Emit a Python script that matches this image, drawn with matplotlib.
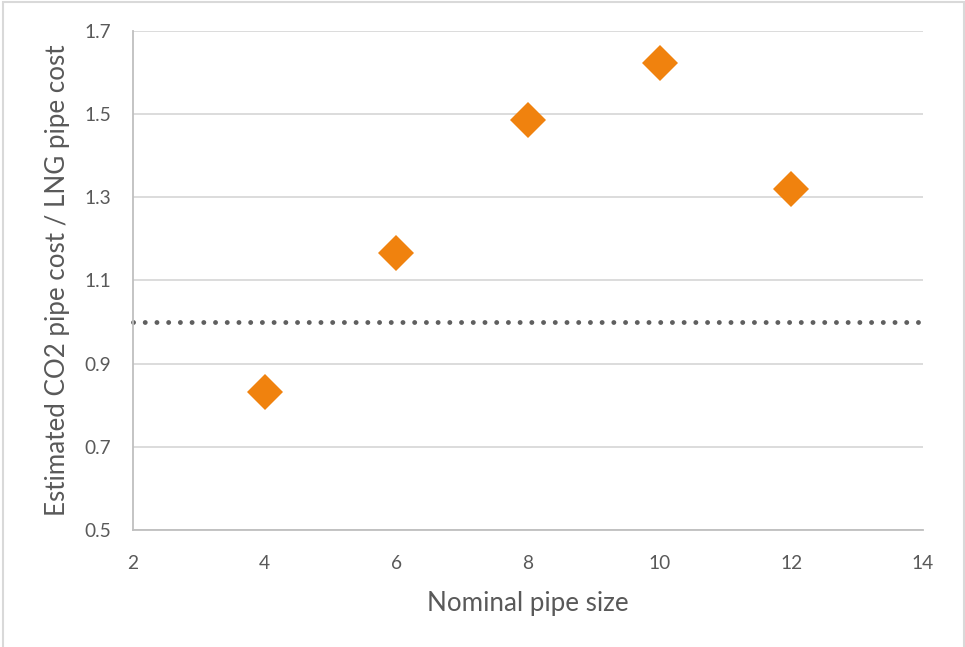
import matplotlib
matplotlib.use("Agg")
import matplotlib.pyplot as plt
from matplotlib.patches import Rectangle

plt.rcParams['font.family'] = ['Lato', 'DejaVu Sans']

pipe_size = [4, 6, 8, 10, 12]
cost_ratio = [0.832, 1.165, 1.487, 1.624, 1.321]
ref_x = [2, 14]
ref_y = [1.0, 1.0]
yticks = [0.5, 0.7, 0.9, 1.1, 1.3, 1.5, 1.7]
xticks = [2, 4, 6, 8, 10, 12, 14]

fig = plt.figure(figsize=(9.65, 6.47), dpi=100)
ax = fig.add_axes([133/965, 1-530/647, (923-133)/965, (530-31)/647])

ax.set_xlim(2, 14)
ax.set_ylim(0.5, 1.7)
ax.set_yticks(yticks)
ax.set_xticks(xticks)
ax.set_yticklabels([f"{v:.1f}" for v in yticks])
ax.set_xticklabels([str(v) for v in xticks])
ax.yaxis.grid(True, color='#D9D9D9', linewidth=1.3)
ax.set_axisbelow(True)
for s in ['top', 'right']:
    ax.spines[s].set_visible(False)
for s in ['left', 'bottom']:
    ax.spines[s].set_color('#BFBFBF')
    ax.spines[s].set_linewidth(1.3)
ax.tick_params(length=0, colors='#595959', labelsize=13.8)
ax.tick_params(axis='x', pad=18)
ax.tick_params(axis='y', pad=16)

ax.plot(ref_x, ref_y, color='#5F5F5F', linestyle=(0, (0.01, 2.4)),
        linewidth=3.5, dash_capstyle='round', clip_on=False, zorder=2)
ax.plot(pipe_size, cost_ratio, linestyle='none', marker='D', markersize=18.5,
        color='#F0820E', markeredgewidth=0, zorder=3)

ax.set_xlabel('Nominal pipe size', color='#595959', fontsize=18.7, labelpad=14)
ax.set_ylabel('Estimated CO2 pipe cost / LNG pipe cost', color='#595959', fontsize=18.7, labelpad=10)

fig.patches.append(Rectangle((2.5/965, -0.01), (963.5-2.5)/965, 1.0 - 1.5/647 + 0.01,
                             transform=fig.transFigure, fill=False,
                             edgecolor='#D9D9D9', linewidth=1.5))

fig.savefig('out.png', dpi=100)
